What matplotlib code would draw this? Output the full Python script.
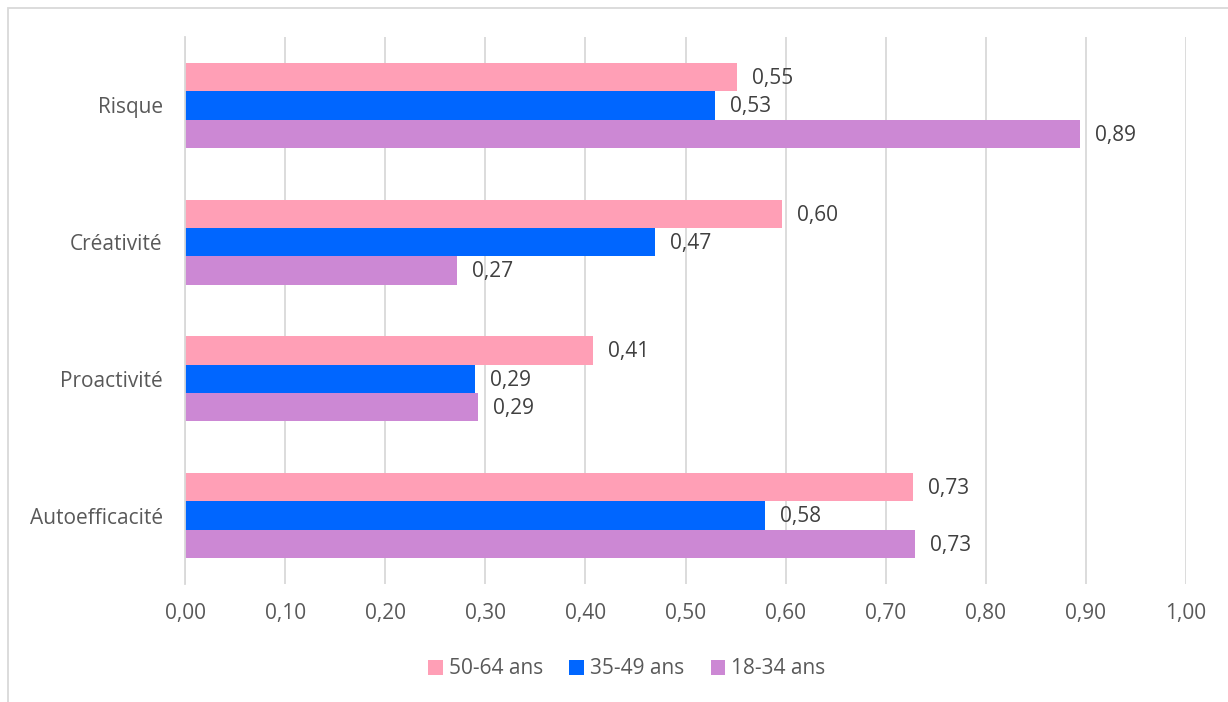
import numpy as np
import matplotlib.pyplot as plt
from matplotlib.patches import Rectangle

plt.rcParams['font.family'] = ['Open Sans', 'DejaVu Sans']

categories = ['Autoefficacité', 'Proactivité', 'Créativité', 'Risque']
groups = ['50-64 ans', '35-49 ans', '18-34 ans']
vals_50_64 = [0.727, 0.408, 0.596, 0.551]
vals_35_49 = [0.579, 0.290, 0.470, 0.529]
vals_18_34 = [0.729, 0.293, 0.272, 0.894]
colors = ['#FF9FB6', '#0066FF', '#CC88D4']
xticks = np.arange(0, 1.01, 0.1)

txt = '#595959'
fs = 15
fig = plt.figure(figsize=(12.28, 7.02), dpi=100)
ax = fig.add_axes([185 / 1228, 1 - 584 / 702, 1001 / 1228, 547 / 702])

# outer chart frame, only its top and left edges fall inside the image
fig.patches.append(Rectangle((8 / 1228, -0.1), 1.2, 1 - 7.5 / 702 + 0.1,
                             transform=fig.transFigure, fill=False,
                             edgecolor='#D9D9D9', lw=1.3))

y = np.arange(len(categories))
h = 0.207
series = [vals_50_64, vals_35_49, vals_18_34]
offsets = [h, 0, -h]
for vals, off, col, lab in zip(series, offsets, colors, groups):
    bars = ax.barh(y + off, vals, height=h, color=col, label=lab, zorder=3)
    for b, v in zip(bars, vals):
        ax.text(v + 0.015, b.get_y() + h / 2 - 0.01, f'{v:.2f}'.replace('.', ','),
                va='center', ha='left', fontsize=fs, color='#404040')

ax.set_xlim(0, 1.0)
ax.set_ylim(-0.5, len(categories) - 0.5)
ax.set_xticks(xticks)
ax.set_xticklabels([f'{t:.2f}'.replace('.', ',') for t in xticks])
ax.set_yticks(y)
ax.set_yticklabels(categories)
ax.tick_params(axis='both', length=0, labelsize=fs, colors=txt)
ax.tick_params(axis='x', pad=14)
ax.tick_params(axis='y', pad=16)
ax.grid(axis='x', color='#D9D9D9', lw=1.3, zorder=0)
for s in ['top', 'right', 'bottom']:
    ax.spines[s].set_visible(False)
ax.spines['left'].set_color('#D9D9D9')
ax.spines['left'].set_linewidth(1.3)
ax.spines['left'].set_zorder(4)

leg = fig.legend(loc='center', bbox_to_anchor=(627 / 1228, 1 - 669 / 702),
                 ncol=3, frameon=False, fontsize=fs, handlelength=0.7,
                 handleheight=0.7, handletextpad=0.3, columnspacing=1.25)
for t in leg.get_texts():
    t.set_color(txt)

fig.savefig('out.png', dpi=100)
